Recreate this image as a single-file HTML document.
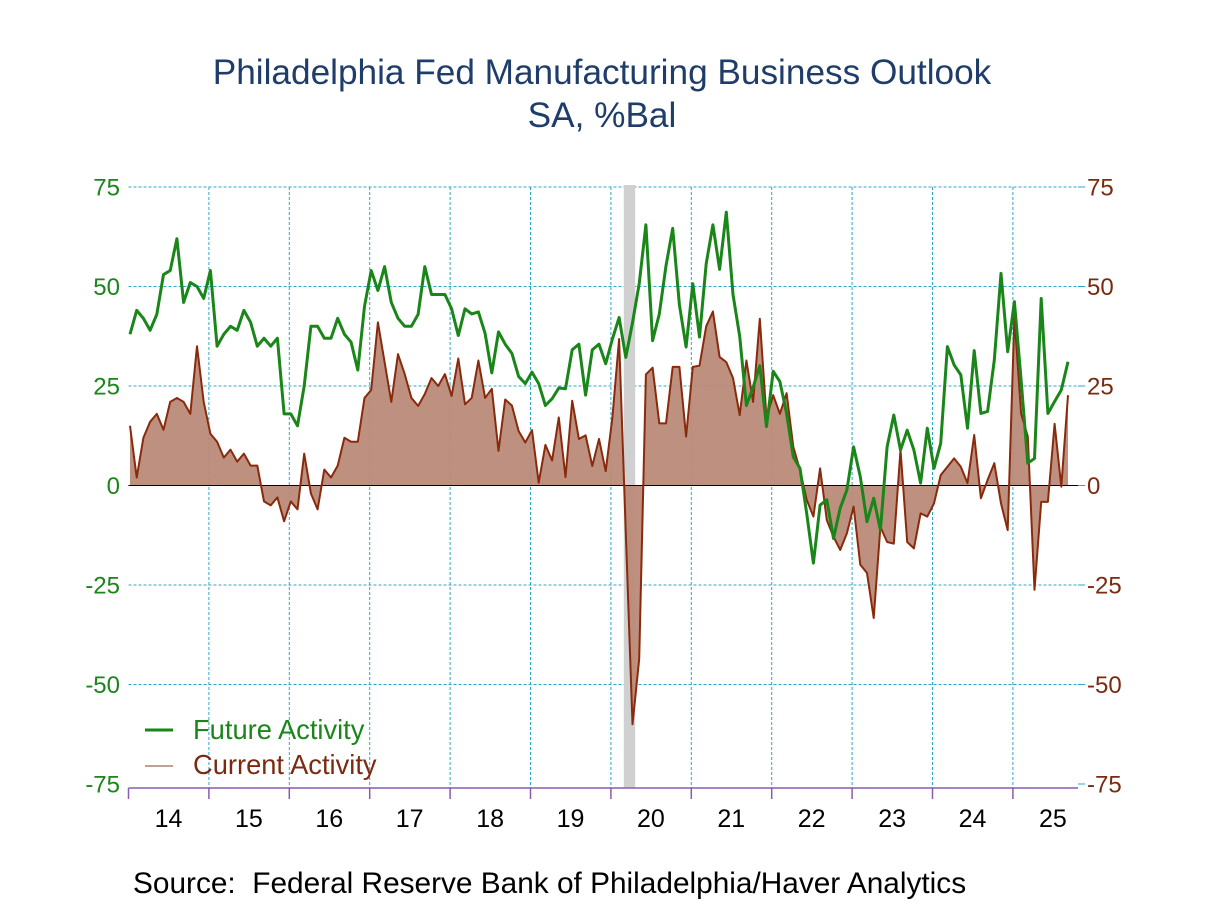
<!DOCTYPE html>
<html><head><meta charset="utf-8"><style>
html,body{margin:0;padding:0;background:#fff;}
svg{display:block;font-family:"Liberation Sans",Arial,sans-serif;}
</style></head><body>
<svg id="chart" width="1208" height="906" viewBox="0 0 1208 906">
<text x="602" y="84" text-anchor="middle" font-size="35.2" fill="#1f3d6b">Philadelphia Fed Manufacturing Business Outlook</text>
<text x="602" y="127" text-anchor="middle" font-size="35.2" fill="#1f3d6b">SA, %Bal</text>
<g id="grid"></g>
<g id="recess"></g>
<g id="series"></g>
<g id="axes"></g>
<g>
<line x1="145" y1="730" x2="173" y2="730" stroke="#1a861a" stroke-width="3"/>
<text x="193" y="739" font-size="27.3" fill="#1a861a">Future Activity</text>
<line x1="145" y1="766" x2="173" y2="766" stroke="#c0a090" stroke-width="2"/>
<text x="193" y="774" font-size="27.3" fill="#7a2a10">Current Activity</text>
</g>
<text x="133" y="893" font-size="29.8" fill="#000">Source:&#160; Federal Reserve Bank of Philadelphia/Haver Analytics</text>
</svg>
<script>
const future = [38,44,42,39,43,53,54,62,46,51,50,47,54,35,38,40,39,44,41,35,37,35,37,18,18,15,25,40,40,37,37,42,38,36,29,45,54,49,55,46,42,40,40,43,55,48,48,48,
44.4,37.7,44.4,43.1,43.6,38.2,28.3,38.6,35.5,33.2,27.4,25.6,28.5,25.6,20.1,21.8,24.5,24.3,34.1,35.5,22.7,34.1,35.5,30.6,36.8,42.2,32.2,40.9,50.7,65.5,36.4,43.1,55.2,64.6,45.4,34.8,50.7,37.3,55.7,65.5,54.3,68.7,48,37.5,20.1,24.7,30.1,14.8,28.7,26.1,
18.1,7.2,4.3,-7,-19.5,-4.9,-3.6,-13.3,-5.7,-1.1,9.7,2.2,-9.1,-3.2,-11.2,9.7,17.7,8.9,13.9,8.9,0.6,14.4,4.3,10.6,34.9,30.3,27.8,14.4,33.9,18.1,18.6,31.5,53.3,33.6,46.2,26.5,5.6,6.8,47,18.1,21.1,24,31.1];
const current = [15,2,12,16,18,14,21,22,21,18,35,21,13,11,7,9,6,8,5,5,-4,-5,-3,-9,-4,-6,8,-2,-6,4,2,5,12,11,11,22,24,41,31,21,33,28,22,20,23,27,25,28,
22.5,31.9,20.4,22,31.4,22,24.3,8.7,21.6,20.1,13.7,10.8,13.9,0.7,10.2,6.3,17.1,2.1,21.3,11.7,12.6,4.9,11.7,3.6,17.1,36.8,-12,-60,-43.6,27.9,29.6,15.6,15.6,29.8,29.8,12.3,29.8,30.1,40,43.7,32.3,31,27,17.7,31.4,21,41.9,17,22.7,18,
23.2,9.7,3.9,-3.6,-7.8,4.3,-8.7,-12.9,-16.2,-12,-5.3,-19.9,-22,-33.3,-10.4,-14.2,-14.6,8.9,-14.2,-15.8,-7,-7.8,-4.5,2.6,4.7,6.8,4.7,0.6,12.7,-3.2,1.4,5.6,-4.5,-11.2,42.4,18.1,12.3,-26.2,-4.1,-4.1,15.5,-0.3,22.7];
const years = ["14","15","16","17","18","19","20","21","22","23","24","25"];
const yTicks = [75,50,25,0,-25,-50,-75];
const recession = [73.7,75.4]; // month indices from Jan 2014
const NS="http://www.w3.org/2000/svg";
const X0=128.5, X1=1078, Y75=187, Ym75=784, PM=80.4/12;
function x(i){return X0+1.5+i*PM;}
function y(v){return Y75+(75-v)*(Ym75-Y75)/150;}
function mk(tag,attrs,parent){const e=document.createElementNS(NS,tag);for(const k in attrs)e.setAttribute(k,attrs[k]);parent.appendChild(e);return e;}
const grid=document.getElementById('grid'),axes=document.getElementById('axes'),ser=document.getElementById('series'),rec=document.getElementById('recess');
yTicks.forEach(v=>{
  if(v!==0 && v!==-75){const l=mk('line',{x1:X0,x2:X1,y1:y(v),y2:y(v),stroke:'#2aa8c8','stroke-width':1,'stroke-dasharray':'3,2'},grid);
  
  }
  const t=mk('text',{x:120,y:y(v)+8.5,'text-anchor':'end','font-size':24,fill:'#1a861a'},axes);t.textContent=v;
  
  
  const t2=mk('text',{x:1087,y:y(v)+8.5,'font-size':24,fill:'#7a2a10'},axes);t2.textContent=v;
  
  
  const tk=mk('line',{x1:X1,x2:X1+7,y1:y(v),y2:y(v),stroke:'#2aa8c8','stroke-width':1},axes);
  
  
});
years.forEach((yr,k)=>{
  const xx=X0+k*80.4;
  if(k>0){const l=mk('line',{x1:xx,x2:xx,y1:Y75,y2:788,stroke:'#2aa8c8','stroke-width':1,'stroke-dasharray':'3,2'},grid);
  
  }
  const tk=mk('line',{x1:xx,x2:xx,y1:788,y2:799,stroke:'#8a5cb0','stroke-width':1.5},axes);
  
  
  const t=mk('text',{x:xx+40,y:827,'text-anchor':'middle','font-size':25,fill:'#000'},axes);t.textContent=yr;
  
  
});
const ax=mk('line',{x1:X0,x2:X1,y1:788,y2:788,stroke:'#8a5cb0','stroke-width':1.5},axes);


const r=mk('rect',{x:x(recession[0]),y:Y75-2,width:x(recession[1])-x(recession[0]),height:788-Y75+2,fill:'#d0d0d0'},rec);


let ptsC=current.map((v,i)=>x(i)+','+y(v)).join(' ');
const area=mk('polygon',{points:x(0)+','+y(0)+' '+ptsC+' '+x(current.length-1)+','+y(0),fill:'#b98a78','fill-opacity':0.95},ser);


const zl=mk('line',{x1:X0,x2:X1,y1:y(0),y2:y(0),stroke:'#000','stroke-width':1},ser);


const lc=mk('polyline',{points:ptsC,fill:'none',stroke:'#8a2a0c','stroke-width':2,'stroke-linejoin':'round'},ser);


const lf=mk('polyline',{points:future.map((v,i)=>x(i)+','+y(v)).join(' '),fill:'none',stroke:'#1a861a','stroke-width':3,'stroke-linejoin':'round'},ser);


</script>
</body></html>
